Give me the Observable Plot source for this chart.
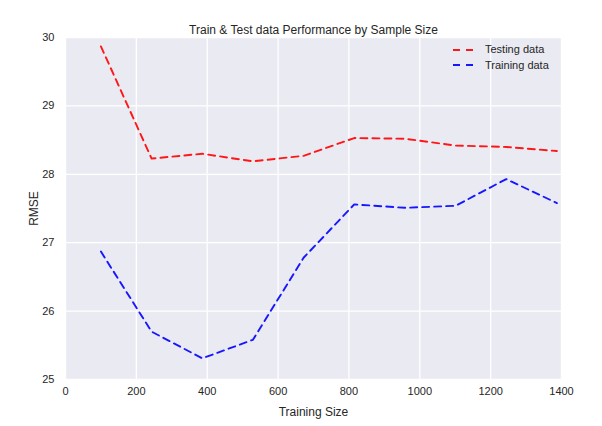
<!DOCTYPE html>
<html><head><meta charset="utf-8">
<script src="https://cdn.jsdelivr.net/npm/d3@7"></script>
<script src="https://cdn.jsdelivr.net/npm/@observablehq/plot@0.6"></script>
<style>
body{margin:0;background:#fff;font-family:"Liberation Sans",Arial,sans-serif;}
#wrap{position:relative;width:602px;height:426px;}
#legend{position:absolute;left:453px;top:42px;font-size:11px;color:#262626;line-height:15.5px;}
#legend div{display:flex;align-items:center;}
#legend svg{margin-right:10px;}
</style></head><body>
<div id="wrap"><div id="legend"></div></div>
<script>
const trainingSizes = [100, 243, 386, 529, 672, 815, 958, 1101, 1244, 1387];
const testingRMSE  = [29.87, 28.23, 28.30, 28.19, 28.27, 28.53, 28.52, 28.42, 28.40, 28.34];
const trainingRMSE = [26.87, 25.70, 25.31, 25.58, 26.78, 27.56, 27.51, 27.54, 27.93, 27.58];
const xTicks = [0, 200, 400, 600, 800, 1000, 1200, 1400];
const yTicks = [25, 26, 27, 28, 29, 30];
const seriesNames = ["Testing data", "Training data"];
const seriesColors = ["#ff0000", "#0000ff"];
const titleText = "Train & Test data Performance by Sample Size";

const rows = [];
trainingSizes.forEach((s, i) => {
  rows.push({size: s, rmse: testingRMSE[i], series: seriesNames[0]});
  rows.push({size: s, rmse: trainingRMSE[i], series: seriesNames[1]});
});

const chart = Plot.plot({
  width: 602, height: 426,
  marginLeft: 65, marginRight: 41, marginTop: 37, marginBottom: 47,
  style: {fontFamily: '"Liberation Sans", Arial, sans-serif', fontSize: "11px", color: "#262626", background: "#fff"},
  x: {domain: [0, 1400], ticks: xTicks, tickFormat: d3.format("d"), tickSize: 0, tickPadding: 8, label: "Training Size", labelAnchor: "center", labelArrow: "none", labelOffset: 36},
  y: {domain: [25, 30], ticks: yTicks, tickFormat: d3.format("d"), tickSize: 0, tickPadding: 11, label: "RMSE", labelAnchor: "center", labelArrow: "none", labelOffset: 36},
  color: {domain: seriesNames, range: seriesColors},
  marks: [
    Plot.frame({fill: "#EAEAF2", stroke: null}),
    Plot.gridX(xTicks, {stroke: "#fff", strokeOpacity: 1, strokeWidth: 1.3}),
    Plot.gridY(yTicks, {stroke: "#fff", strokeOpacity: 1, strokeWidth: 1.3}),
    Plot.line(rows, {x: "size", y: "rmse", z: "series", stroke: "series", strokeWidth: 1.9, strokeDasharray: "7,5", strokeOpacity: 0.9}),
    Plot.text([titleText], {frameAnchor: "top", dy: -12, fontSize: 12, fill: "#262626"})
  ]
});
chart.querySelectorAll('g[aria-label="x-axis label"] text, g[aria-label="y-axis label"] text').forEach(t => t.style.fontSize = "12px");
document.getElementById("wrap").prepend(chart);

const legend = document.getElementById("legend");
seriesNames.forEach((n, i) => {
  const d = document.createElement("div");
  d.innerHTML = `<svg width="22" height="6"><line x1="0" x2="22" y1="3" y2="3" stroke="${seriesColors[i]}" stroke-opacity="0.9" stroke-width="1.9" stroke-dasharray="7,6"/></svg><span>${n}</span>`;
  legend.appendChild(d);
});
</script>
</body></html>
